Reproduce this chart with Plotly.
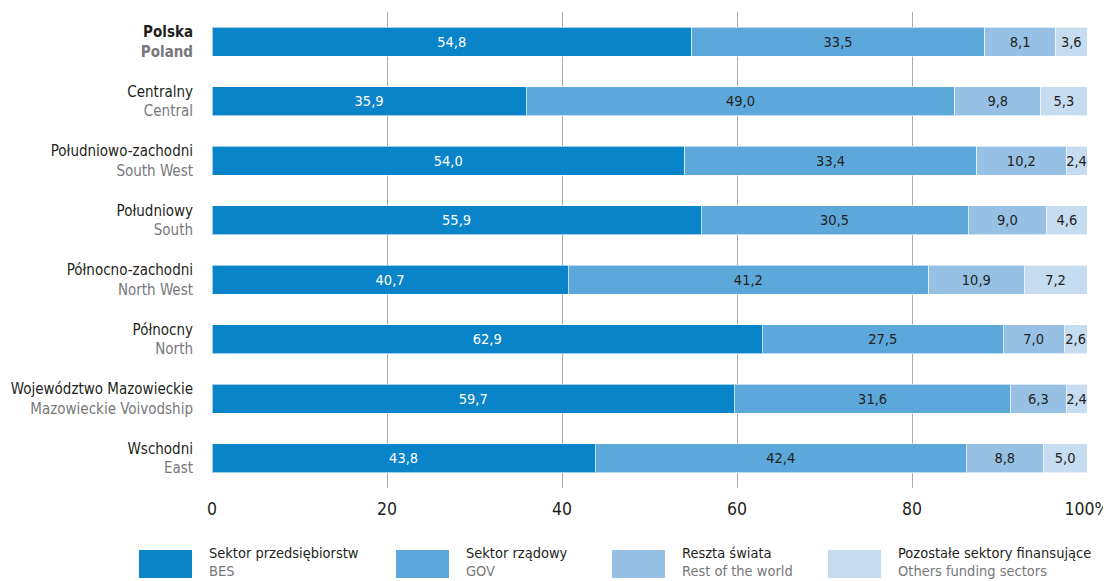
import plotly.graph_objects as go

regions_pl = ["Polska", "Centralny", "Południowo-zachodni", "Południowy", "Północno-zachodni",
              "Północny", "Województwo Mazowieckie", "Wschodni"]
regions_en = ["Poland", "Central", "South West", "South", "North West",
              "North", "Mazowieckie Voivodship", "East"]
bes = [54.8, 35.9, 54.0, 55.9, 40.7, 62.9, 59.7, 43.8]
gov = [33.5, 49.0, 33.4, 30.5, 41.2, 27.5, 31.6, 42.4]
row = [8.1, 9.8, 10.2, 9.0, 10.9, 7.0, 6.3, 8.8]
oth = [3.6, 5.3, 2.4, 4.6, 7.2, 2.6, 2.4, 5.0]
series_pl = ["Sektor przedsiębiorstw", "Sektor rządowy", "Reszta świata", "Pozostałe sektory finansujące"]
series_en = ["BES", "GOV", "Rest of the world", "Others funding sectors"]
x_ticks = [0, 20, 40, 60, 80, 100]
x_ticktext = ["0", "20", "40", "60", "80", "100%"]

colors = ["#0a84c8", "#5ca8db", "#96c0e4", "#c6dcf1"]
text_colors = ["#ffffff", "#231f20", "#231f20", "#231f20"]
FONT = "DejaVu Sans Condensed, Roboto, sans-serif"

# page has an 8px body margin; plot area in page pixels: x 212..1087, y 12..488
PL, PR, PT, PB = 212, 1087, 12, 488
OFF = 8

def px(xp):
    return (xp - PL) / (PR - PL)

def py(yp):
    return (PB - yp) / (PB - PT)

fig = go.Figure()
for vals, name, col, tcol in zip([bes, gov, row, oth], series_pl, colors, text_colors):
    fig.add_trace(go.Bar(
        x=vals, y=regions_pl, orientation="h", name=name,
        marker=dict(color=col, line=dict(color="rgba(255,255,255,0.6)", width=1)),
        text=[f"{v:.1f}".replace(".", ",") for v in vals],
        textposition="inside", insidetextanchor="middle", textangle=0,
        constraintext="none",
        textfont=dict(family=FONT, size=14.5, color=tcol),
        showlegend=False, hoverinfo="skip",
    ))

ticktext = []
for i, (p, e) in enumerate(zip(regions_pl, regions_en)):
    if i == 0:
        ticktext.append(f"<b>{p}</b><br><b><span style='color:#77787b'>{e}</span></b>")
    else:
        ticktext.append(f"{p}<br><span style='color:#77787b'>{e}</span>")

W, H = 1111 - OFF, 581 - OFF
fig.update_layout(
    barmode="stack", bargap=0.51,
    width=W, height=H,
    margin=dict(l=PL - OFF, r=W - (PR - OFF), t=PT - OFF, b=H - (PB - OFF)),
    paper_bgcolor="white", plot_bgcolor="white",
    font=dict(family=FONT, color="#231f20"),
    xaxis=dict(range=[0, 100], tickvals=x_ticks, ticktext=x_ticktext,
               showgrid=True, gridcolor="#a7a9ac", gridwidth=1, zeroline=False,
               showline=False, ticks="", tickfont=dict(size=17.5, color="#231f20"),
               ticklabelstandoff=8, fixedrange=True, automargin=False),
    yaxis=dict(autorange="reversed", tickvals=regions_pl, ticktext=ticktext,
               tickfont=dict(size=15, color="#231f20"), ticks="",
               ticklabelstandoff=18, showgrid=False, showline=False, fixedrange=True,
               automargin=False),
)

# custom legend
legend_x = [139, 396, 612, 828]
shapes = []
annotations = []
for lx, col, p, e in zip(legend_x, colors, series_pl, series_en):
    shapes.append(dict(type="rect", xref="paper", yref="paper",
                       x0=px(lx), x1=px(lx + 53),
                       y0=py(578), y1=py(550),
                       fillcolor=col, line=dict(width=0)))
    annotations.append(dict(xref="paper", yref="paper",
                            x=px(lx + 68), y=py(553),
                            text=p, showarrow=False, xanchor="left", yanchor="middle",
                            font=dict(family=FONT, size=14.5, color="#231f20")))
    annotations.append(dict(xref="paper", yref="paper",
                            x=px(lx + 68), y=py(571),
                            text=e, showarrow=False, xanchor="left", yanchor="middle",
                            font=dict(family=FONT, size=14.5, color="#77787b")))
fig.update_layout(shapes=shapes, annotations=annotations)

fig.write_html("out.html")
